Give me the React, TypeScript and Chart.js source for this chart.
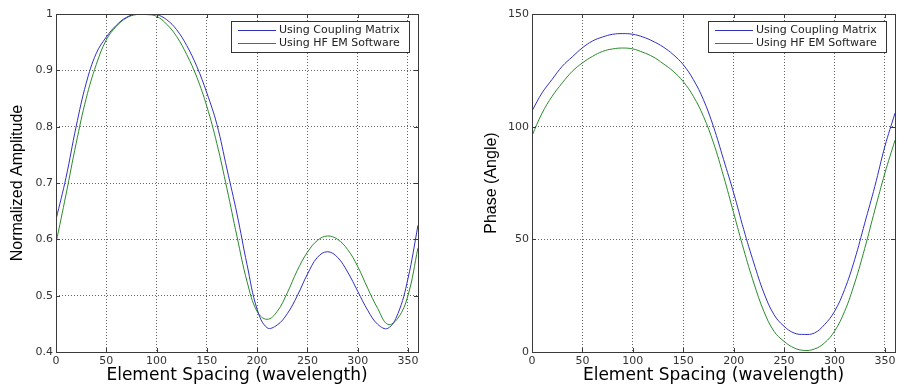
import { useEffect, useRef } from 'react';
import { Chart, registerables } from 'chart.js';

Chart.register(...registerables);

const spacing = [0, 10, 20, 30, 40, 50, 60, 70, 80, 90, 100, 110, 120, 130, 140, 150, 160, 170, 180, 190, 200, 210, 220, 230, 240, 250, 260, 270, 280, 290, 300, 310, 320, 330, 340, 350, 360];

const ampCoupling = [0.635, 0.71, 0.8, 0.877, 0.93, 0.959, 0.98, 0.994, 1.0, 1.0, 0.999, 0.99, 0.972, 0.944, 0.907, 0.86, 0.804, 0.725, 0.645, 0.555, 0.476, 0.443, 0.448, 0.468, 0.5, 0.538, 0.568, 0.578, 0.568, 0.542, 0.508, 0.474, 0.449, 0.442, 0.468, 0.53, 0.625];
const ampHfem = [0.593, 0.68, 0.77, 0.85, 0.91, 0.954, 0.978, 0.993, 0.999, 0.999, 0.996, 0.982, 0.96, 0.928, 0.888, 0.836, 0.77, 0.69, 0.605, 0.525, 0.472, 0.458, 0.472, 0.505, 0.545, 0.577, 0.598, 0.606, 0.6, 0.582, 0.552, 0.513, 0.477, 0.449, 0.46, 0.5, 0.585];

const phaseCoupling = [107, 115, 121, 126.8, 131, 135, 138, 139.8, 141, 141.3, 141, 139.8, 137.9, 135.4, 132, 127.5, 120.9, 112, 100, 85.4, 70.6, 54.3, 39.5, 26.2, 16.6, 11.4, 8.4, 7.8, 8.4, 12.1, 18, 27.7, 41, 57.2, 73.5, 91.3, 106];
const phaseHfem = [96, 106, 113.5, 119.4, 124.6, 128.3, 131.2, 133.4, 134.5, 134.9, 134.5, 133, 131, 128, 124.6, 120, 113.5, 104.6, 92.8, 78, 61.7, 45.4, 30.6, 18, 9.2, 4.7, 1.8, 0.7, 1.3, 4, 9.2, 18, 30.6, 46, 63, 79.4, 94];

const seriesLabels = ['Using Coupling Matrix', 'Using HF EM Software'];
const seriesColors = ['#3030c0', '#2a8a2a'];
const xTitle = 'Element Spacing (wavelength)';

const framePlugin = {
  id: 'matlabFrame',
  afterDraw(chart: any) {
    const { ctx, chartArea: a, scales } = chart;
    const L = Math.round(a.left), T = Math.round(a.top), R = Math.round(a.right), B = Math.round(a.bottom);
    ctx.save();
    ctx.strokeStyle = '#3a3a3a';
    ctx.lineWidth = 1;
    ctx.beginPath();
    scales.x.ticks.forEach((t: any) => {
      const p = Math.round(scales.x.getPixelForValue(t.value)) + 0.5;
      ctx.moveTo(p, B); ctx.lineTo(p, B - 4);
      ctx.moveTo(p, T); ctx.lineTo(p, T + 4);
    });
    scales.y.ticks.forEach((t: any) => {
      const p = Math.round(scales.y.getPixelForValue(t.value)) + 0.5;
      ctx.moveTo(L, p); ctx.lineTo(L + 4, p);
      ctx.moveTo(R, p); ctx.lineTo(R - 4, p);
    });
    ctx.stroke();
    ctx.strokeRect(L + 0.5, T + 0.5, R - L, B - T);
    // legend
    const w = 178, h = 31;
    const lx = R - 9 - w, ly = T + 7;
    ctx.fillStyle = '#ffffff';
    ctx.fillRect(lx, ly, w, h);
    ctx.strokeStyle = '#333333';
    ctx.strokeRect(lx + 0.5, ly + 0.5, w, h);
    chart.data.datasets.forEach((ds: any, i: number) => {
      const yy = ly + 9.5 + i * 13;
      ctx.strokeStyle = ds.borderColor;
      ctx.beginPath();
      ctx.moveTo(lx + 7, yy);
      ctx.lineTo(lx + 45, yy);
      ctx.stroke();
      ctx.fillStyle = '#222222';
      ctx.font = '11px "DejaVu Sans"';
      ctx.textBaseline = 'middle';
      ctx.textAlign = 'left';
      ctx.fillText(ds.label, lx + 48, yy);
    });
    ctx.restore();
  },
};

type Cfg = {
  a: number[];
  b: number[];
  yTitle: string;
  yMin: number;
  yMax: number;
  yStep: number;
  yWidth: number;
  titlePad: number;
  padRight: number;
};

function PlotCanvas({ cfg, width }: { cfg: Cfg; width: number }) {
  const ref = useRef<HTMLCanvasElement | null>(null);
  useEffect(() => {
    if (!ref.current) return;
    const mk = (vals: number[]) => spacing.map((x, i) => ({ x, y: vals[i] }));
    const chart = new Chart(ref.current, {
      type: 'line',
      data: {
        datasets: [
          { label: seriesLabels[0], data: mk(cfg.a), borderColor: seriesColors[0], borderWidth: 1, pointRadius: 0, tension: 0.4, fill: false },
          { label: seriesLabels[1], data: mk(cfg.b), borderColor: seriesColors[1], borderWidth: 1, pointRadius: 0, tension: 0.4, fill: false },
        ],
      },
      options: {
        animation: false,
        responsive: false,
        devicePixelRatio: 1,
        layout: { padding: { top: 14, right: cfg.padRight, left: 0, bottom: 0 } },
        plugins: { legend: { display: false }, tooltip: { enabled: false } },
        scales: {
          x: {
            type: 'linear',
            min: 0,
            max: 360,
            afterFit: (s: any) => { s.height = 36; },
            ticks: { stepSize: 50, includeBounds: false, autoSkip: false, maxRotation: 0, padding: 3, color: '#333', font: { family: 'DejaVu Sans', size: 11 } },
            grid: { color: '#666', lineWidth: 1, drawTicks: false },
            border: { display: false, dash: [1, 2] },
            title: { display: true, text: xTitle, color: '#000', font: { family: 'DejaVu Sans', size: 17 }, padding: { top: 0, bottom: 2 } },
          },
          y: {
            type: 'linear',
            min: cfg.yMin,
            max: cfg.yMax,
            afterFit: (s: any) => { s.width = cfg.yWidth; },
            ticks: { stepSize: cfg.yStep, padding: 3, color: '#333', font: { family: 'DejaVu Sans', size: 11 }, callback: (v: any) => String(Math.round(Number(v) * 10) / 10) },
            grid: { color: '#666', lineWidth: 1, drawTicks: false },
            border: { display: false, dash: [1, 2] },
            title: { display: true, text: cfg.yTitle, color: '#000', font: { family: 'Liberation Sans', size: 16 }, padding: { top: cfg.titlePad, bottom: 0 } },
          },
        },
      },
      plugins: [framePlugin],
    } as any);
    return () => chart.destroy();
  }, [cfg]);
  return <canvas ref={ref} width={width} height={388} style={{ display: 'block' }} />;
}

const leftCfg: Cfg = { a: ampCoupling, b: ampHfem, yTitle: 'Normalized Amplitude', yMin: 0.4, yMax: 1, yStep: 0.1, yWidth: 56, titlePad: 8, padRight: 34 };
const rightCfg: Cfg = { a: phaseCoupling, b: phaseHfem, yTitle: 'Phase (Angle)', yMin: 0, yMax: 150, yStep: 50, yWidth: 80, titlePad: 30, padRight: 10 };

export default function App() {
  return (
    <div style={{ position: 'fixed', left: 0, top: 0, width: 905, height: 388, background: '#fff', display: 'flex' }}>
      <PlotCanvas cfg={leftCfg} width={452} />
      <PlotCanvas cfg={rightCfg} width={453} />
    </div>
  );
}
